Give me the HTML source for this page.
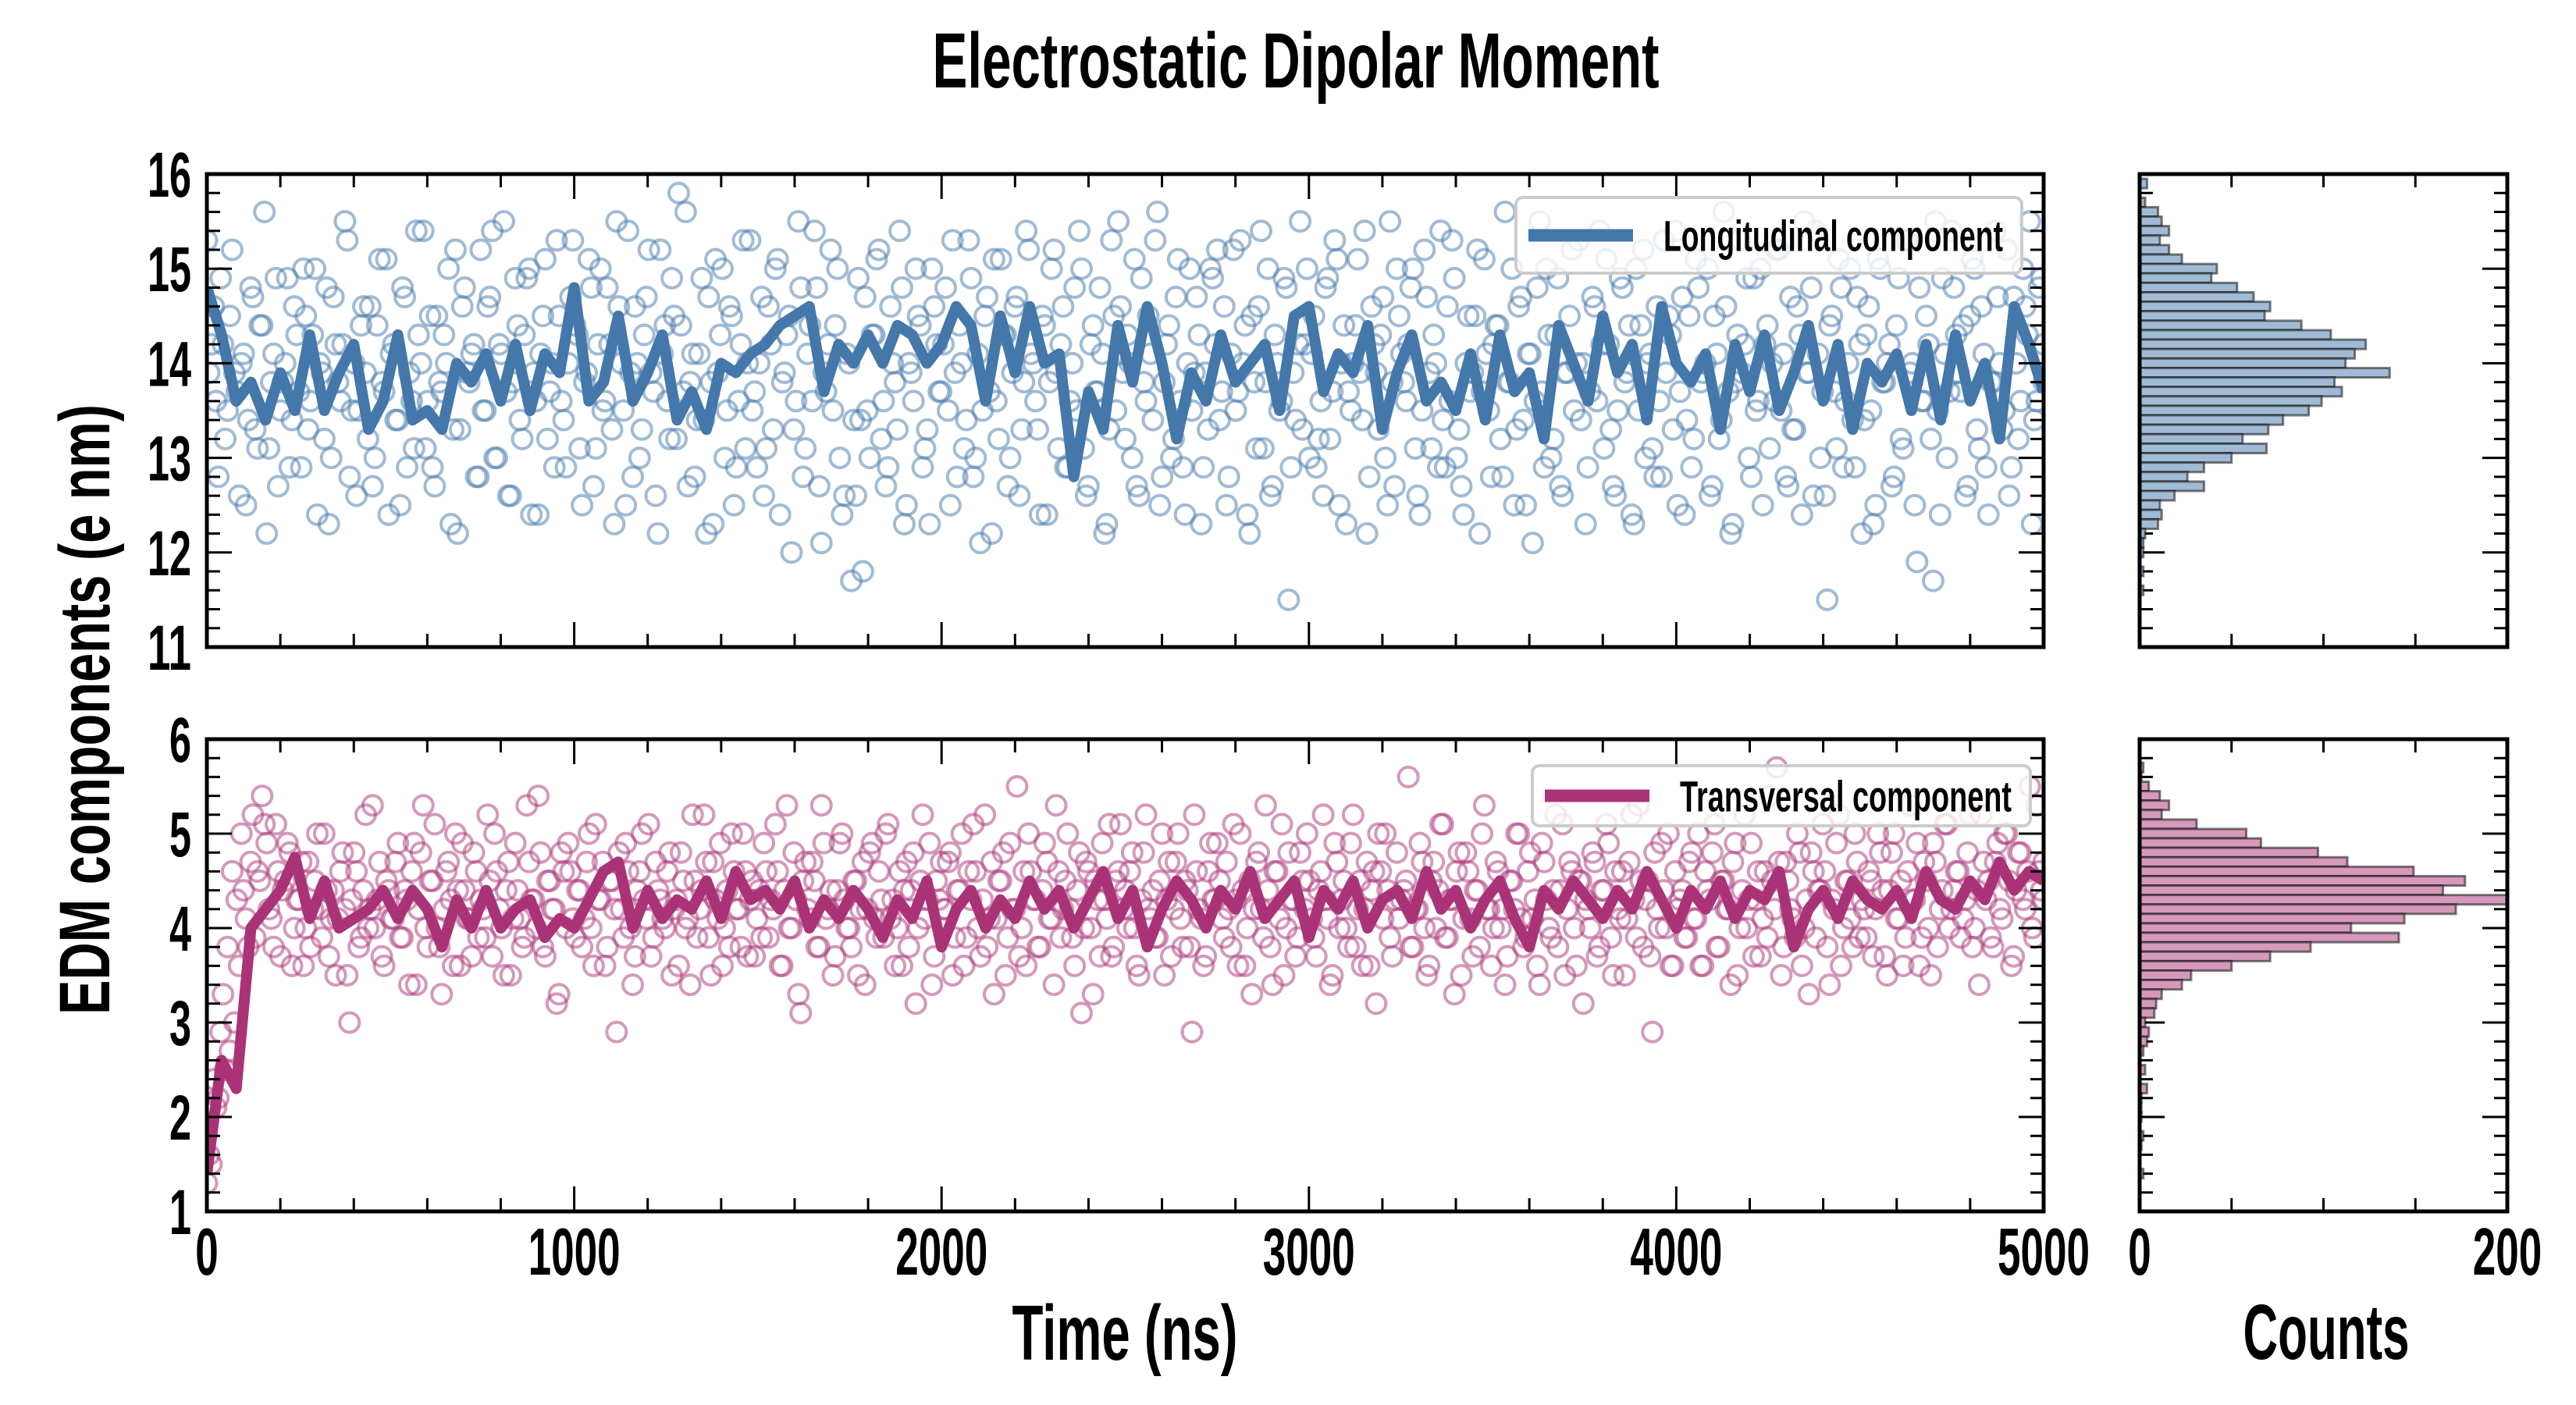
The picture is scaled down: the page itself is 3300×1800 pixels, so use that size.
<!DOCTYPE html>
<html><head><meta charset="utf-8"><style>html,body{margin:0;padding:0;background:#fff}svg{display:block}</style></head>
<body>
<svg id="chart" xmlns="http://www.w3.org/2000/svg" width="3300" height="1800" viewBox="0 0 3300 1800">
<rect width="3300" height="1800" fill="#fff"/>
</svg>
<script>
const lonScatter=[15.3,14.2,13.6,14.9,13.2,14.5,13.9,12.6,14.1,13.4,14.7,13.1,14.4,12.2,13.8,14.9,13.5,14.0,12.9,14.6,
13.7,15.0,13.3,14.3,12.4,13.9,14.8,13.0,14.2,13.6,15.5,12.8,14.0,13.5,14.6,13.2,12.7,14.4,13.8,15.1,
14.1,13.4,12.5,14.7,13.9,13.1,14.3,15.4,13.6,12.9,14.5,13.7,14.0,12.3,15.2,13.3,14.8,13.8,14.2,12.8,
13.5,14.6,15.4,13.0,14.1,13.7,12.6,14.9,13.4,14.3,15.0,13.9,12.4,14.5,13.2,14.0,15.3,13.6,12.9,14.7,
14.4,13.1,13.8,15.1,12.7,14.2,13.5,14.8,13.3,15.5,14.0,12.5,13.9,14.6,13.0,14.3,15.2,13.7,12.2,14.1,
13.6,14.9,13.2,14.4,15.6,13.8,12.8,14.1,13.4,14.7,12.3,13.9,15.0,13.5,14.5,12.9,14.2,13.1,15.3,13.7,
14.0,12.6,14.6,13.3,15.1,13.8,14.3,12.0,13.6,14.8,13.1,14.4,15.4,12.7,13.9,14.2,13.5,15.0,12.4,14.1,
11.7,12.6,13.4,14.7,13.0,14.3,15.2,13.6,12.9,14.0,13.3,14.8,12.5,13.9,15.0,14.4,13.1,12.3,14.6,13.7,
14.2,13.5,15.3,12.8,14.0,13.4,14.9,13.0,12.1,14.5,13.7,15.1,13.2,14.3,12.7,13.9,14.7,13.3,15.4,14.1,
13.6,12.4,14.4,13.8,15.2,13.1,14.6,12.9,14.0,13.5,15.0,12.6,14.2,13.7,14.8,12.2,13.3,14.5,15.5,13.9,
14.3,13.0,12.7,14.9,13.6,14.1,15.3,12.5,13.8,14.4,13.2,15.1,12.9,14.0,13.5,14.7,12.3,13.9,15.0,14.2,
13.4,14.6,12.8,15.2,13.7,14.0,12.4,14.5,13.1,15.4,13.8,12.6,14.3,13.5,14.9,11.5,13.9,14.2,13.3,15.0,
14.1,12.9,13.6,14.8,13.2,15.3,12.5,14.4,13.7,14.0,15.1,13.4,12.2,14.6,13.9,14.3,13.0,15.5,12.7,14.5,
13.8,14.2,15.0,12.6,13.5,14.7,13.1,14.0,15.4,12.9,13.6,14.9,13.3,12.4,14.5,13.9,15.2,13.7,14.1,12.8,
14.4,13.2,15.6,13.8,12.5,14.6,13.4,14.1,12.1,14.8,13.7,15.0,13.0,14.3,12.7,13.9,14.5,13.5,15.3,14.0,
12.9,14.7,13.6,14.2,15.1,13.3,12.6,14.9,13.8,14.4,12.3,13.5,15.2,14.0,13.1,14.6,12.8,13.9,14.3,15.4,
13.7,12.4,14.5,13.2,14.8,13.9,15.0,12.7,14.1,13.4,14.6,12.2,13.8,15.3,14.2,13.0,14.9,13.6,12.5,14.4,
14.0,15.2,13.5,12.8,14.7,13.3,14.3,15.5,13.9,12.6,14.1,13.7,11.5,14.5,13.1,14.8,13.6,15.0,12.9,14.2,
13.4,14.6,12.3,15.1,13.8,14.0,12.7,14.4,13.2,15.3,13.9,12.5,14.8,13.6,14.2,11.7,13.5,14.9,13.0,15.4,
14.3,13.7,12.6,14.5,15.0,13.1,14.1,12.4,13.8,14.7,13.3,15.2,12.9,14.0,13.6,14.6,15.5,13.4,14.8,13.8];
const lonScatterB=[13.9,14.6,12.8,14.2,13.5,15.2,13.7,14.0,12.5,14.8,13.3,14.4,15.6,13.1,14.1,12.7,13.8,14.9,13.4,14.3,
12.9,14.5,13.6,15.0,14.0,13.2,12.3,14.7,13.8,14.2,15.3,13.5,12.6,14.4,13.9,14.6,13.0,15.1,13.7,12.4,
14.2,13.4,14.8,12.9,13.6,15.4,14.0,13.1,14.5,12.7,13.8,14.3,15.0,13.3,12.2,14.6,13.9,14.1,12.8,15.2,
13.5,14.7,13.0,14.2,15.5,12.6,13.8,14.4,13.2,14.9,12.4,13.6,14.1,15.1,13.7,12.9,14.5,13.4,14.0,15.3,
14.3,12.5,13.9,14.8,13.1,15.0,13.6,14.2,12.3,14.6,13.5,15.4,12.8,14.0,13.3,14.7,13.9,12.6,15.2,14.4,
13.2,14.5,15.8,13.7,12.7,14.1,13.4,14.9,12.2,13.8,15.1,14.3,13.0,14.6,12.5,13.6,15.3,14.0,13.5,12.9,
14.7,13.1,14.2,15.0,12.4,13.9,14.5,13.3,15.5,12.8,14.1,13.6,14.8,12.1,13.7,15.2,14.4,13.0,12.6,14.0,
13.4,14.9,11.8,13.5,14.3,15.1,13.2,12.7,14.6,13.8,15.4,12.3,14.0,13.6,14.5,12.9,13.3,15.0,14.2,13.7,
14.8,12.5,13.9,14.4,13.1,15.3,12.8,14.1,13.5,14.7,12.2,13.6,15.1,14.3,13.0,14.6,12.6,13.8,15.2,14.0,
13.3,14.5,12.4,15.0,13.9,14.2,12.9,13.6,14.8,15.4,13.1,12.7,14.4,13.7,14.1,12.3,15.3,13.5,14.6,13.2,
14.0,15.1,12.6,13.8,14.5,13.4,15.6,12.8,14.2,13.0,14.7,13.6,12.4,15.0,13.9,14.3,12.9,13.3,14.9,15.2,
13.7,12.5,14.1,13.5,15.3,14.4,12.2,13.8,14.6,13.1,15.0,12.7,14.0,13.6,14.8,12.9,13.4,15.5,14.2,13.0,
14.5,13.2,12.6,14.9,13.7,15.1,14.0,12.3,13.5,14.4,13.9,15.4,12.8,14.2,13.3,14.7,12.5,13.8,15.0,14.1,
13.6,14.8,13.1,12.4,15.2,13.9,14.3,12.9,13.4,14.6,15.3,13.0,12.7,14.0,13.7,14.5,12.2,15.1,13.5,14.2,
14.4,12.8,13.8,15.0,13.3,14.7,12.5,14.1,13.6,15.5,12.9,14.3,13.2,14.9,12.6,13.9,15.2,14.0,13.4,12.3,
13.7,14.6,15.4,13.1,14.2,12.7,13.5,14.8,13.9,12.4,15.0,14.4,13.0,14.1,12.8,13.6,15.3,14.5,13.3,12.5,
14.7,13.4,12.9,15.1,13.8,14.0,12.6,14.5,13.2,15.6,13.7,12.3,14.3,13.9,14.9,12.8,13.5,15.0,14.2,13.1,
13.6,15.2,14.1,12.7,13.3,14.6,12.4,13.9,14.8,15.4,13.0,12.6,14.4,13.7,15.1,12.9,14.0,13.4,14.7,12.2,
14.3,13.5,12.5,15.0,13.8,14.2,12.8,14.9,13.1,15.3,14.0,11.9,13.6,14.5,13.2,15.5,12.4,14.1,13.7,14.8,
13.9,14.4,12.7,15.1,13.3,14.6,12.9,13.8,15.4,14.0,13.5,12.6,14.7,13.2,15.0,14.3,12.3,13.6,14.9,14.2];
const traScatter=[1.3,1.5,2.1,2.9,2.5,2.7,3.0,3.6,4.4,3.8,5.2,4.6,5.4,4.9,4.1,5.1,3.7,4.5,4.8,4.0,
4.3,3.6,4.7,4.2,5.0,3.9,4.4,4.1,3.5,4.6,4.2,3.0,4.8,3.8,4.4,4.0,5.3,4.3,3.7,4.5,
4.1,4.7,3.9,4.4,3.4,4.9,4.2,5.3,3.8,4.5,4.0,3.3,4.6,4.3,5.0,3.6,4.4,4.1,4.8,3.9,
4.2,5.2,3.7,4.6,4.0,4.4,3.5,4.9,4.1,3.9,4.7,4.3,5.4,3.8,4.5,4.2,3.2,4.8,4.0,4.6,
3.9,4.4,4.1,5.0,3.6,4.3,4.7,3.8,4.5,2.9,4.2,4.9,4.0,3.7,4.6,4.3,5.1,3.9,4.4,4.1,
4.6,3.5,4.3,4.8,4.0,3.4,4.5,4.2,5.2,3.9,4.7,4.1,3.6,4.4,5.0,4.2,3.8,4.6,4.3,3.7,
4.4,4.9,3.9,4.2,4.6,3.6,5.3,4.0,4.3,3.1,4.7,4.1,4.5,3.8,4.9,4.2,3.5,4.4,5.0,4.0,
3.8,4.5,4.2,3.4,4.8,4.1,4.6,3.9,5.1,4.3,4.0,3.6,4.7,4.4,3.2,4.5,4.1,4.9,3.7,4.3,
4.2,4.7,3.5,4.4,5.0,3.9,4.3,4.6,3.7,5.2,4.1,3.3,4.5,4.8,3.9,4.2,5.5,4.0,3.6,4.6,
4.3,3.8,4.9,4.1,3.4,4.6,4.2,5.0,3.9,4.4,3.1,4.7,4.0,4.5,3.7,4.3,5.1,3.8,4.6,4.2,
4.0,4.8,3.6,4.3,5.2,4.1,3.9,4.5,3.5,4.7,4.2,5.0,3.8,4.4,2.9,4.6,4.1,3.7,4.9,4.3,
4.5,3.9,4.2,5.1,3.6,4.4,4.0,3.3,4.7,4.2,5.3,3.8,4.6,4.1,3.5,4.8,4.3,3.9,4.5,5.0,
4.1,3.7,4.6,4.3,3.4,4.9,4.0,4.5,3.8,5.2,4.2,3.6,4.7,4.4,3.2,4.6,5.0,3.9,4.3,4.1,
4.4,5.6,3.8,4.2,4.7,3.5,4.5,4.0,5.1,3.9,4.3,3.3,4.8,4.1,4.6,3.7,4.4,5.0,4.2,3.6,
4.7,4.0,3.4,4.5,4.2,5.0,3.8,4.6,4.1,3.6,4.9,4.3,3.9,5.2,4.4,3.5,4.7,4.0,4.5,3.2,
4.2,4.8,3.7,4.4,5.1,3.9,4.6,4.1,3.5,4.7,4.3,5.3,3.8,4.5,2.9,4.2,4.9,4.0,3.6,4.6,
4.3,3.9,4.7,4.1,5.0,3.6,4.4,4.8,3.8,4.5,4.2,3.4,4.9,4.0,5.2,4.3,3.7,4.6,4.1,3.9,
4.5,5.7,3.5,4.7,4.2,3.9,4.8,4.0,3.3,4.6,4.4,5.1,3.8,4.3,4.9,3.6,4.5,4.1,5.0,3.9,
4.2,4.6,3.7,5.0,4.4,3.5,4.8,4.1,4.5,3.9,5.3,4.3,3.6,4.7,4.0,4.9,3.8,4.4,5.1,4.2,
4.6,3.9,4.3,5.2,4.0,3.4,4.7,4.5,3.8,4.9,4.1,5.0,3.6,4.4,4.8,4.2,5.5,3.9,4.6,4.3];
const traScatterB=[1.6,2.4,2.2,3.3,3.8,4.6,4.3,5.0,4.1,4.7,3.9,4.5,5.1,4.2,3.8,4.6,4.4,4.9,3.6,4.3,
4.7,4.0,3.8,4.5,4.2,5.0,3.7,4.4,4.1,4.8,3.5,4.3,4.6,3.9,5.2,4.2,4.0,4.7,3.6,4.4,
4.1,4.9,3.9,4.3,4.6,3.4,4.8,4.0,4.5,5.1,3.8,4.2,4.7,3.6,4.4,4.9,4.1,3.7,4.6,4.3,
3.9,4.5,5.0,4.2,3.5,4.7,4.1,4.4,3.8,5.3,4.3,4.0,4.8,3.7,4.5,4.2,3.3,4.6,4.9,4.1,
4.4,3.8,4.7,4.0,5.1,4.3,3.6,4.5,4.2,4.8,3.9,4.6,3.4,4.4,5.0,4.1,3.7,4.7,4.3,4.0,
4.8,4.2,3.6,4.5,4.1,5.2,3.9,4.4,4.7,3.5,4.3,4.9,4.0,3.8,4.6,4.2,5.0,3.7,4.5,4.1,
3.9,4.6,4.3,5.1,3.6,4.4,4.0,4.8,3.3,4.5,4.2,4.7,3.8,5.3,4.1,4.4,3.7,4.9,4.3,4.0,
4.5,3.5,4.7,4.2,4.9,3.9,4.3,5.0,4.1,3.6,4.6,4.4,3.8,4.8,4.0,5.2,4.3,3.4,4.5,4.7,
4.2,4.8,3.9,4.4,3.6,4.6,5.1,4.0,4.3,3.8,4.7,4.1,4.5,3.5,4.9,4.2,3.7,4.6,5.0,4.3,
3.8,4.4,4.7,4.1,5.3,3.9,4.5,4.2,3.6,4.8,4.0,4.6,3.3,4.3,4.9,4.1,3.7,4.5,5.1,4.4,
4.6,4.0,3.5,4.8,4.2,4.4,3.9,5.0,4.3,3.7,4.7,4.1,4.5,3.8,5.2,4.2,3.6,4.6,4.3,4.9,
4.1,4.7,3.8,4.3,5.0,3.6,4.5,4.2,4.8,3.9,4.4,3.4,4.6,5.1,4.0,4.3,3.7,4.8,4.2,4.5,
3.9,4.4,5.2,4.1,3.5,4.7,4.3,4.0,4.9,3.8,4.5,4.2,3.6,4.6,5.0,4.1,4.4,3.7,4.8,4.3,
4.5,3.8,4.2,4.9,4.0,3.6,4.7,4.4,5.1,3.9,4.3,4.6,3.5,4.8,4.1,4.4,3.8,5.3,4.2,4.0,
4.6,4.2,3.7,4.5,5.0,4.1,3.9,4.8,4.3,3.4,4.7,4.0,4.4,3.8,5.1,4.2,4.6,3.6,4.5,4.3,
4.0,4.7,3.8,4.4,4.9,3.5,4.2,4.6,4.1,5.2,3.9,4.5,4.3,3.7,4.8,4.0,4.4,5.0,3.6,4.2,
4.4,3.9,4.8,4.1,3.6,4.6,4.3,5.1,3.8,4.5,4.2,4.7,3.5,4.4,4.0,4.9,4.3,3.7,4.6,5.4,
4.2,4.7,3.8,4.5,4.1,5.0,3.6,4.3,4.8,3.9,4.4,4.6,3.4,4.2,5.2,4.0,4.5,3.8,4.7,4.3,
3.9,4.5,4.2,4.8,3.7,4.4,5.0,4.1,3.6,4.6,4.3,4.9,3.9,4.5,3.5,4.7,4.2,5.1,4.0,4.4,
4.6,4.1,4.8,3.8,4.4,5.2,4.3,3.9,4.7,4.2,5.0,4.5,3.7,4.8,4.3,4.6,4.0,5.3,4.4,4.7];
const lonLine=[14.8,14.3,13.6,13.8,13.4,13.9,13.5,14.3,13.5,13.9,14.2,13.3,13.6,14.3,13.4,13.5,13.3,14.0,13.8,14.1,13.6,14.2,13.5,14.1,13.9,14.8,13.6,13.8,14.5,13.6,13.9,14.3,13.4,13.7,13.3,14.0,13.9,14.1,14.2,14.4,14.5,14.6,13.7,14.2,14.0,14.3,14.0,14.4,14.3,14.0,14.2,14.6,14.4,13.6,14.5,13.9,14.6,14.0,14.1,12.8,13.7,13.3,14.4,13.8,14.6,14.0,13.2,13.9,13.6,14.3,13.8,14.0,14.2,13.5,14.5,14.6,13.7,14.1,13.9,14.4,13.3,13.9,14.3,13.6,13.8,13.5,14.1,13.4,14.3,13.7,13.9,13.2,14.4,14.0,13.6,14.5,13.9,14.2,13.4,14.6,14.0,13.8,14.1,13.3,14.2,13.7,14.3,13.5,13.9,14.4,13.6,14.2,13.3,14.0,13.8,14.1,13.5,14.2,13.4,14.3,13.6,14.0,13.2,14.6,14.2,13.7];
const traLine=[1.4,2.6,2.3,4.0,4.2,4.4,4.75,4.1,4.5,4.0,4.1,4.2,4.4,4.1,4.4,4.2,3.8,4.3,4.0,4.4,4.0,4.2,4.3,3.9,4.1,4.0,4.3,4.6,4.7,4.0,4.4,4.1,4.3,4.2,4.5,4.1,4.6,4.3,4.4,4.2,4.5,4.0,4.3,4.1,4.4,4.2,3.9,4.3,4.1,4.5,3.8,4.2,4.4,4.0,4.3,4.1,4.5,4.2,4.4,4.0,4.3,4.6,4.1,4.4,3.8,4.2,4.5,4.3,4.0,4.4,4.2,4.6,4.1,4.3,4.5,3.9,4.4,4.2,4.5,4.0,4.3,4.4,4.1,4.6,4.2,4.4,4.0,4.3,4.5,4.1,3.8,4.4,4.2,4.5,4.3,4.1,4.4,4.2,4.6,4.3,4.0,4.4,4.2,4.5,4.1,4.4,4.3,4.6,3.8,4.2,4.4,4.1,4.5,4.3,4.2,4.4,4.1,4.6,4.3,4.2,4.5,4.3,4.7,4.4,4.6,4.5];
const lonHistTop=15.9;
const lonHist=[4,0,3,10,12,16,11,16,23,42,39,53,62,71,68,88,104,123,117,112,136,106,110,99,92,78,70,56,69,50,35,26,35,19,11,12,10,3,2,2,0,2,0,2];
const traHistTop=5.7;
const traHist=[2,1,5,11,16,12,31,58,66,97,113,149,177,165,200,172,144,115,141,93,71,50,28,23,12,9,8,3,5,4,2,0,3,0,4,1,1,1,0,2,1,0,0,2];
const xTicks=[0,1000,2000,3000,4000,5000];
const lonTicks=[11,12,13,14,15,16];
const traTicks=[1,2,3,4,5,6];

const NS='http://www.w3.org/2000/svg';
const svg=document.getElementById('chart');
function el(tag,attrs,parent){const e=document.createElementNS(NS,tag);for(const k in attrs)e.setAttribute(k,attrs[k]);(parent||svg).appendChild(e);return e;}
const FONT='"Liberation Sans", "DejaVu Sans", sans-serif';
function txt(x,y,s,fs,anchor,len,parent){const t=el('text',{x:x,y:y,'font-family':FONT,'font-weight':'bold','font-size':fs,'text-anchor':anchor,fill:'#000',textLength:len,lengthAdjust:'spacingAndGlyphs'},parent);t.textContent=s;return t;}

const X0=265,X1=2618,HX0=2741,HX1=3212;
const panels=[{y0:223,y1:829,min:11,max:16,ticks:lonTicks,sc:lonScatter,scB:lonScatterB,ln:lonLine,hist:lonHist,htop:lonHistTop,color:'#4477aa',fill:'#a1bbd5',name:'longitudinal',legend:'Longitudinal component',lb:[1942,253,648,97],ll:435,showX:false},
{y0:947,y1:1552,min:1,max:6,ticks:traTicks,sc:traScatter,scB:traScatterB,ln:traLine,hist:traHist,htop:traHistTop,color:'#aa3377',fill:'#d499bb',name:'transversal',legend:'Transversal component',lb:[1963,981,638,77],ll:425,showX:true}];
const xs=t=>X0+(t/5000)*(X1-X0);
const hxs=c=>HX0+(c/200)*(HX1-HX0);

panels.forEach(p=>{
  const ys=v=>p.y1-(v-p.min)/(p.max-p.min)*(p.y1-p.y0);
  const g=el('g',{});
  
  
  const clipId='clip-'+p.name;
  const cp=el('clipPath',{id:clipId},g);el('rect',{x:X0,y:p.y0,width:X1-X0,height:p.y1-p.y0},cp);
  const sg=el('g',{'clip-path':'url(#'+clipId+')'},g);
  
  
  const n=p.sc.length;
  const dt=5000/(n-1);
  p.sc.forEach((v,i)=>{
    const c=el('circle',{cx:xs(i*dt),cy:ys(v),r:12.5,fill:'none',stroke:p.color,'stroke-width':4,'stroke-opacity':0.5},sg);
    
    
  });
  p.scB.forEach((v,i)=>{
    const c=el('circle',{cx:xs(Math.min(5000,(i+0.5)*dt)),cy:ys(v),r:12.5,fill:'none',stroke:p.color,'stroke-width':4,'stroke-opacity':0.5},sg);
    
    
  });
  const m=p.ln.length;
  const d=p.ln.map((v,i)=>(i?'L':'M')+xs(i*5000/(m-1)).toFixed(1)+','+ys(v).toFixed(1)).join('');
  const path=el('path',{d:d,fill:'none',stroke:p.color,'stroke-width':14,'stroke-linejoin':'round'},sg);
  
  
  for(let t=0;t<=5000;t+=200){const L=(t%1000===0)?32:17;
    el('line',{x1:xs(t),x2:xs(t),y1:p.y1,y2:p.y1-L,stroke:'#000','stroke-width':3},g);
    el('line',{x1:xs(t),x2:xs(t),y1:p.y0,y2:p.y0+L,stroke:'#000','stroke-width':3},g);}
  for(let k=0;k<=25;k++){const v=p.min+k*0.2;const L=(k%5===0)?32:17;
    el('line',{x1:X0,x2:X0+L,y1:ys(v),y2:ys(v),stroke:'#000','stroke-width':3},g);
    el('line',{x1:X1,x2:X1-L,y1:ys(v),y2:ys(v),stroke:'#000','stroke-width':3},g);
    el('line',{x1:HX0,x2:HX0+L,y1:ys(v),y2:ys(v),stroke:'#000','stroke-width':3},g);
    el('line',{x1:HX1,x2:HX1-L,y1:ys(v),y2:ys(v),stroke:'#000','stroke-width':3},g);}
  p.ticks.forEach(v=>{const t=txt(245,ys(v)+29,String(v),82,'end',String(v).length*28,g);
    });
  if(p.showX){xTicks.forEach(v=>{const t=txt(xs(v),1633,String(v),85,'middle',String(v).length*29.5,g);
    });}
  el('rect',{x:X0,y:p.y0,width:X1-X0,height:p.y1-p.y0,fill:'none',stroke:'#000','stroke-width':5},g);
  const hg=el('g',{});
  
  
  const bh=Math.abs(ys(0.1)-ys(0));
  p.hist.forEach((c,i)=>{if(c<=0)return;const center=p.htop-i*0.1;
    const r=el('rect',{x:HX0,y:ys(center)-bh/2,width:hxs(c)-HX0,height:bh,fill:p.fill,stroke:'#000','stroke-opacity':0.5,'stroke-width':3},hg);
    
    });
  for(let c=50;c<200;c+=50){
    el('line',{x1:hxs(c),x2:hxs(c),y1:p.y1,y2:p.y1-17,stroke:'#000','stroke-width':3},hg);
    el('line',{x1:hxs(c),x2:hxs(c),y1:p.y0,y2:p.y0+17,stroke:'#000','stroke-width':3},hg);}
  el('rect',{x:HX0,y:p.y0,width:HX1-HX0,height:p.y1-p.y0,fill:'none',stroke:'#000','stroke-width':5},hg);
  if(p.showX){[0,200].forEach(v=>{const t=txt(hxs(v),1633,String(v),85,'middle',String(v).length*29.5,hg);
    });}
  const lg=el('g',{});
  
  
  const b=p.lb;
  el('rect',{x:b[0],y:b[1],width:b[2],height:b[3],rx:9,fill:'#fff','fill-opacity':0.8,stroke:'#cccccc','stroke-width':4},lg);
  const cy=b[1]+b[3]/2;
  el('line',{x1:b[0]+16,x2:b[0]+150,y1:cy,y2:cy,stroke:p.color,'stroke-width':16},lg);
  txt(b[0]+189,cy+20,p.legend,56,'start',p.ll,lg);
});
let t;
t=txt(1660,112,'Electrostatic Dipolar Moment',100,'middle',931);

t=txt(1441,1742,'Time (ns)',100,'middle',289);

t=txt(2980,1741,'Counts',100,'middle',213);

t=txt(0,0,'EDM components (e nm)',92,'middle',782);
t.setAttribute('transform','translate(140,909) rotate(-90)');

</script>
</body></html>
